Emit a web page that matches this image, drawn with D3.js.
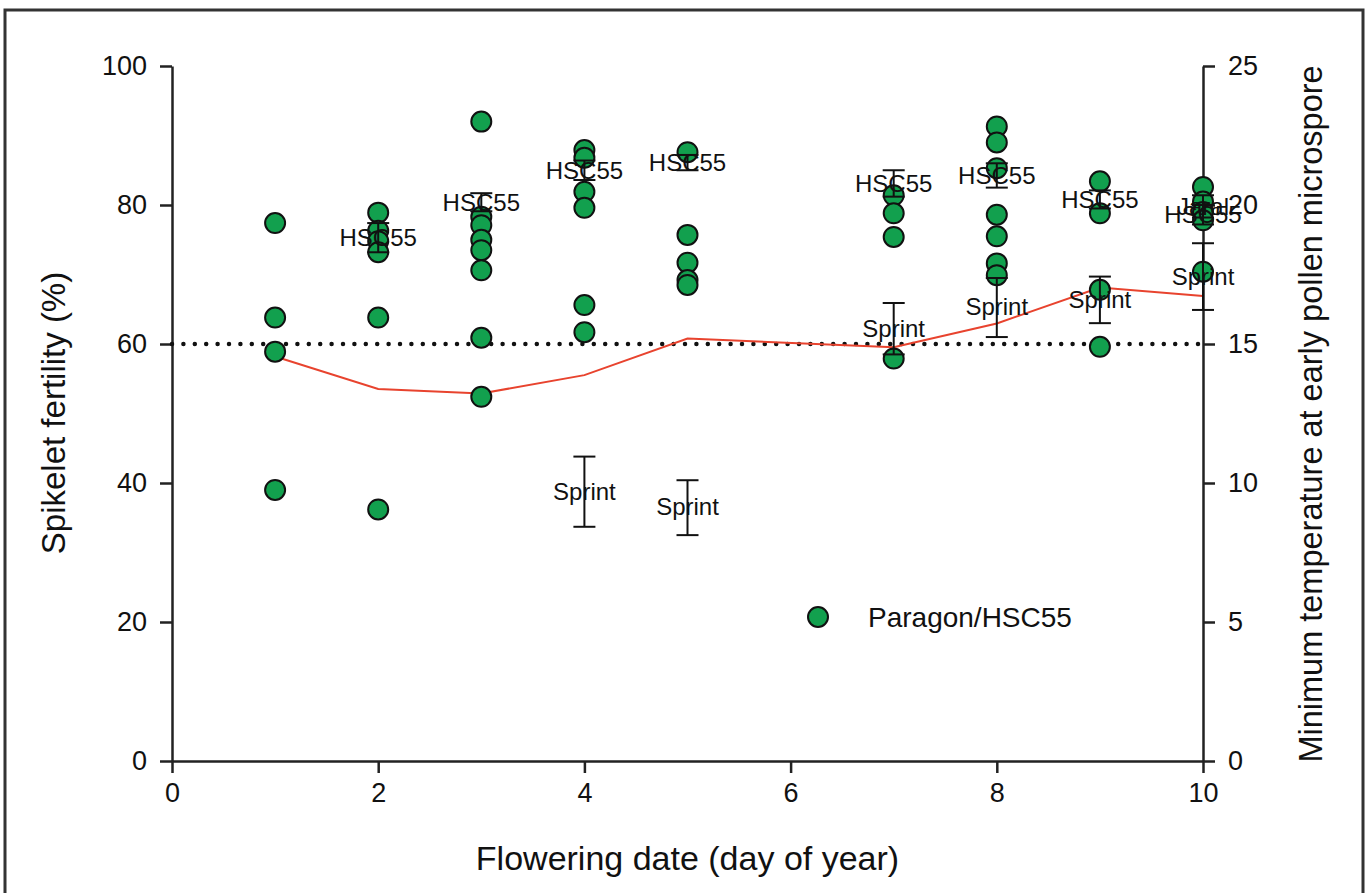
<!DOCTYPE html>
<html>
<head>
<meta charset="utf-8">
<script src="https://cdn.jsdelivr.net/npm/d3@7"></script>
<style>
  body { margin: 0; background: #fff; }
  svg { font-family: "Liberation Sans", Arial, sans-serif; }
</style>
</head>
<body>
<div class="chart"></div>
<script>
// days that have data
const days = [1, 2, 3, 4, 5, 7, 8, 9, 10];

// spikelet fertility (%) of Paragon/HSC55 plants, one list per day
const fertility = [
  [77.4, 63.8, 58.9, 39.0],
  [78.9, 76.3, 74.8, 73.2, 63.8, 36.2],
  [92.0, 78.3, 77.1, 75.0, 73.5, 70.6, 60.9, 52.4],
  [87.9, 86.8, 81.9, 79.6, 65.6, 61.7],
  [87.6, 75.7, 71.7, 69.2, 68.5],
  [81.4, 78.8, 75.4, 57.9],
  [91.3, 89.0, 85.3, 78.6, 75.5, 71.6, 69.9],
  [83.4, 78.8, 67.8, 59.6],
  [82.6, 80.5, 79.0, 77.8, 70.4]
];

// minimum temperature at early pollen microspore (right axis)
const minTemp = [14.55, 13.38, 13.22, 13.88, 15.2, 14.88, 15.74, 17.03, 16.73];

// HSC55 means with error bars
const hscDays = [2, 3, 4, 5, 7, 8, 9, 10];
const hscMean = [75.3, 80.4, 85.0, 86.1, 83.1, 84.2, 80.8, 78.6];
const hscLow  = [73.2, 79.1, 83.6, 85.0, 81.2, 82.5, 79.5, 77.2];
const hscHigh = [77.4, 81.7, 86.4, 87.2, 85.0, 86.0, 82.1, 80.0];

// Sprint means with error bars
const sprintDays = [4, 5, 7, 8, 9, 10];
const sprintMean = [38.8, 36.6, 62.2, 65.4, 66.4, 69.7];
const sprintLow  = [33.7, 32.5, 58.5, 61.0, 63.0, 64.9];
const sprintHigh = [43.8, 40.4, 65.9, 69.5, 69.7, 74.5];

// Jaral
const jaralDays = [10];
const jaralMean = [79.8];
const jaralLow  = [78.2];
const jaralHigh = [81.4];

const threshold = 60;
const xTicks = [0, 2, 4, 6, 8, 10];
const yTicks = [0, 20, 40, 60, 80, 100];
const y2Ticks = [0, 5, 10, 15, 20, 25];

const w = 1367;
const h = 893;
const padLeft = 172, padRight = 1203, padTop = 66, padBottom = 761;
const green = '#12a04e';
const ink = '#222';

const xScale = d3.scaleLinear().domain([0, 10]).range([padLeft, padRight]);
const yScale = d3.scaleLinear().domain([0, 100]).range([padBottom, padTop]);
const y2Scale = d3.scaleLinear().domain([0, 25]).range([padBottom, padTop]);

const svg = d3.select('div.chart')
  .append('svg')
  .attr('width', w)
  .attr('height', h);

// outer frame
svg.append('rect')
  .attr('x', 5)
  .attr('y', 10)
  .attr('width', 1358)
  .attr('height', 900)
  .attr('fill', 'none')
  .attr('stroke', '#333')
  .attr('stroke-width', 3);

// axes
const styleAxis = (g) => {
  g.select('.domain').attr('stroke', ink).attr('stroke-width', 2.5);
  g.selectAll('.tick line').attr('stroke', ink).attr('stroke-width', 2.5);
  g.selectAll('.tick text').attr('fill', '#111').attr('font-size', 27)
    .attr('font-family', '"Liberation Sans", Arial, sans-serif');
};

svg.append('g')
  .attr('transform', 'translate(0,' + padBottom + ')')
  .call(d3.axisBottom(xScale).tickValues(xTicks).tickSize(12).tickPadding(10).tickSizeOuter(0))
  .call(styleAxis);

svg.append('g')
  .attr('transform', 'translate(' + padLeft + ',0)')
  .call(d3.axisLeft(yScale).tickValues(yTicks).tickSize(12).tickPadding(13).tickSizeOuter(0))
  .call(styleAxis);

svg.append('g')
  .attr('transform', 'translate(' + padRight + ',0)')
  .call(d3.axisRight(y2Scale).tickValues(y2Ticks).tickSize(12).tickPadding(13).tickSizeOuter(0))
  .call(styleAxis);

// dotted 60% line
svg.append('line')
  .attr('x1', xScale(0))
  .attr('x2', xScale(10))
  .attr('y1', yScale(threshold))
  .attr('y2', yScale(threshold))
  .attr('stroke', '#111')
  .attr('stroke-width', 4.5)
  .attr('stroke-linecap', 'round')
  .attr('stroke-dasharray', '0 11.4');

// temperature line
const line = d3.line()
  .x((d, i) => xScale(days[i]))
  .y((d) => y2Scale(d));

svg.append('path')
  .datum(minTemp)
  .attr('d', line)
  .attr('fill', 'none')
  .attr('stroke', '#e8432e')
  .attr('stroke-width', 2);

// points
const pts = [];
days.forEach((d, i) => fertility[i].forEach((v) => pts.push({day: d, v: v})));

svg.selectAll('circle.pt')
  .data(pts)
  .enter()
  .append('circle')
  .attr('class', 'pt')
  .attr('cx', (d) => xScale(d.day))
  .attr('cy', (d) => yScale(d.v))
  .attr('r', 10)
  .attr('fill', green)
  .attr('stroke', '#111')
  .attr('stroke-width', 2);

// error bars + labels
function group(name, ds, mean, lo, hi) {
  const rows = ds.map((d, i) => ({day: d, m: mean[i], lo: lo[i], hi: hi[i]}));
  const g = svg.append('g');
  g.selectAll('line.bar')
    .data(rows)
    .enter()
    .append('line')
    .attr('class', 'bar')
    .attr('x1', (d) => xScale(d.day))
    .attr('x2', (d) => xScale(d.day))
    .attr('y1', (d) => yScale(d.lo))
    .attr('y2', (d) => yScale(d.hi))
    .attr('stroke', '#111')
    .attr('stroke-width', 2);
  ['lo', 'hi'].forEach((k) => {
    g.selectAll('line.cap-' + k)
      .data(rows)
      .enter()
      .append('line')
      .attr('class', 'cap-' + k)
      .attr('x1', (d) => xScale(d.day) - 11)
      .attr('x2', (d) => xScale(d.day) + 11)
      .attr('y1', (d) => yScale(d[k]))
      .attr('y2', (d) => yScale(d[k]))
      .attr('stroke', '#111')
      .attr('stroke-width', 2);
  });
  g.selectAll('text')
    .data(rows)
    .enter()
    .append('text')
    .text(name)
    .attr('x', (d) => xScale(d.day))
    .attr('y', (d) => yScale(d.m))
    .attr('dy', '0.35em')
    .attr('text-anchor', 'middle')
    .attr('font-size', 24)
    .attr('fill', '#111');
}

group('HSC55', hscDays, hscMean, hscLow, hscHigh);
group('Sprint', sprintDays, sprintMean, sprintLow, sprintHigh);
group('Jaral', jaralDays, jaralMean, jaralLow, jaralHigh);

// legend
svg.append('circle')
  .attr('cx', 818)
  .attr('cy', 617)
  .attr('r', 10)
  .attr('fill', green)
  .attr('stroke', '#111')
  .attr('stroke-width', 2);

svg.append('text')
  .text('Paragon/HSC55')
  .attr('x', 868)
  .attr('y', 627)
  .attr('font-size', 28)
  .attr('fill', '#111');

// axis titles
svg.append('text')
  .text('Flowering date (day of year)')
  .attr('x', (padLeft + padRight) / 2)
  .attr('y', 870)
  .attr('text-anchor', 'middle')
  .attr('font-size', 34)
  .attr('fill', '#111');

svg.append('text')
  .text('Spikelet fertility (%)')
  .attr('transform', 'translate(65,413) rotate(-90)')
  .attr('text-anchor', 'middle')
  .attr('font-size', 33)
  .attr('fill', '#111');

svg.append('text')
  .text('Minimum temperature at early pollen microspore')
  .attr('transform', 'translate(1322,414) rotate(-90)')
  .attr('text-anchor', 'middle')
  .attr('font-size', 32.5)
  .attr('fill', '#111');
</script>
</body>
</html>
